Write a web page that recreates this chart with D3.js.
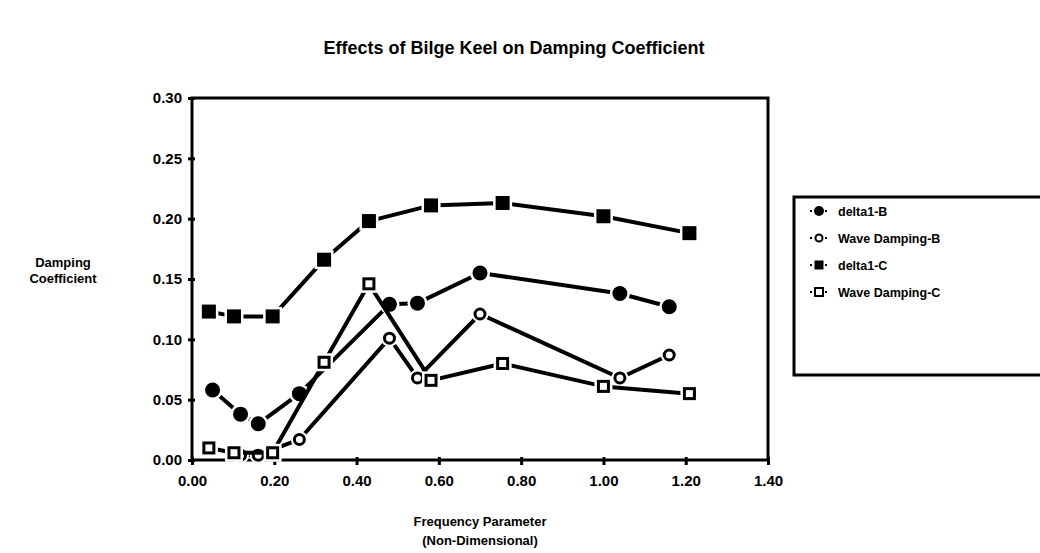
<!DOCTYPE html>
<html>
<head>
<meta charset="utf-8">
<script src="https://d3js.org/d3.v7.min.js"></script>
<style>
  html, body { margin: 0; padding: 0; background: #fff; }
  svg { display: block; }
  text { font-family: "Liberation Sans", Arial, sans-serif; font-weight: bold; fill: #000; }
</style>
</head>
<body>
<svg id="chart" width="1040" height="553"></svg>
<script>
// Frequency parameter (non-dimensional) for each series
const freqB = [0.05, 0.118, 0.161, 0.261, 0.48, 0.548, 0.70, 1.04, 1.16];
const freqWaveB = [0.118, 0.161, 0.261, 0.48, 0.548, 0.70, 1.04, 1.16];
const freqC = [0.041, 0.102, 0.196, 0.321, 0.43, 0.581, 0.755, 1.00, 1.209];

// Damping coefficients
const delta1B = [0.058, 0.038, 0.030, 0.055, 0.129, 0.130, 0.155, 0.138, 0.127];
const waveDampingB = [0.004, 0.004, 0.017, 0.101, 0.068, 0.121, 0.068, 0.087];
const delta1C = [0.123, 0.119, 0.119, 0.166, 0.198, 0.211, 0.213, 0.202, 0.188];
const waveDampingC = [0.010, 0.006, 0.006, 0.081, 0.146, 0.066, 0.080, 0.061, 0.055];

const xTicks = [0, 0.2, 0.4, 0.6, 0.8, 1.0, 1.2, 1.4];
const yTicks = [0, 0.05, 0.10, 0.15, 0.20, 0.25, 0.30];

const seriesNames = ["delta1-B", "Wave Damping-B", "delta1-C", "Wave Damping-C"];
const markerKinds = ["filledCircle", "openCircle", "filledSquare", "openSquare"];

const series = [
  { name: seriesNames[0], kind: markerKinds[0], x: freqB, y: delta1B },
  { name: seriesNames[1], kind: markerKinds[1], x: freqWaveB, y: waveDampingB },
  { name: seriesNames[2], kind: markerKinds[2], x: freqC, y: delta1C },
  { name: seriesNames[3], kind: markerKinds[3], x: freqC, y: waveDampingC }
];

const svg = d3.select("#chart");

const plot = { left: 192, right: 768, top: 98, bottom: 460 };
const x = d3.scaleLinear().domain([0, 1.4]).range([plot.left, plot.right]);
const y = d3.scaleLinear().domain([0, 0.3]).range([plot.bottom, plot.top]);

// Title
svg.append("text")
  .attr("x", 514).attr("y", 54)
  .attr("text-anchor", "middle")
  .style("font-size", "18px")
  .text("Effects of Bilge Keel on Damping Coefficient");

// Frame around plotting area
svg.append("rect")
  .attr("x", plot.left).attr("y", plot.top)
  .attr("width", plot.right - plot.left).attr("height", plot.bottom - plot.top)
  .attr("fill", "none").attr("stroke", "#000").attr("stroke-width", 3);

// Axes
const fmt = d3.format(".2f");
const yAxis = d3.axisLeft(y).tickValues(yTicks).tickFormat(fmt).tickSize(4).tickPadding(6);
const xAxis = d3.axisBottom(x).tickValues(xTicks).tickFormat(fmt).tickSize(5).tickPadding(10);

const gy = svg.append("g").attr("transform", `translate(${plot.left},0)`).call(yAxis);
const gx = svg.append("g").attr("transform", `translate(0,${plot.bottom})`).call(xAxis);
[gx, gy].forEach(g => {
  g.select(".domain").remove();
  g.selectAll(".tick line").attr("stroke", "#000").attr("stroke-width", 3);
  g.selectAll(".tick text")
    .style("font-size", "15px")
    .style("font-family", "'Liberation Sans', Arial, sans-serif")
    .style("font-weight", "bold")
    .attr("fill", "#000");
});
gy.selectAll(".tick line").attr("x1", 3);
gx.selectAll(".tick line").attr("y1", -3);

// Axis titles
const yTitle = svg.append("text").attr("text-anchor", "middle").style("font-size", "13px");
yTitle.append("tspan").attr("x", 63).attr("y", 267).text("Damping");
yTitle.append("tspan").attr("x", 63).attr("y", 283).text("Coefficient");

const xTitle = svg.append("text").attr("text-anchor", "middle").style("font-size", "13px");
xTitle.append("tspan").attr("x", 480).attr("y", 526).text("Frequency Parameter");
xTitle.append("tspan").attr("x", 480).attr("y", 545).text("(Non-Dimensional)");

// Marker drawing: white halo first so lines stop short of each symbol
function drawMarker(g, kind, cx, cy) {
  if (kind === "filledCircle") {
    g.append("circle").attr("cx", cx).attr("cy", cy).attr("r", 10).attr("fill", "#fff");
    g.append("circle").attr("cx", cx).attr("cy", cy).attr("r", 7.5).attr("fill", "#000");
  } else if (kind === "openCircle") {
    g.append("circle").attr("cx", cx).attr("cy", cy).attr("r", 8.5).attr("fill", "#fff");
    g.append("circle").attr("cx", cx).attr("cy", cy).attr("r", 5).attr("fill", "#fff")
      .attr("stroke", "#000").attr("stroke-width", 3);
  } else if (kind === "filledSquare") {
    g.append("rect").attr("x", cx - 9.5).attr("y", cy - 9.5).attr("width", 19).attr("height", 19).attr("fill", "#fff");
    g.append("rect").attr("x", cx - 7).attr("y", cy - 7).attr("width", 14).attr("height", 14).attr("fill", "#000");
  } else {
    g.append("rect").attr("x", cx - 9).attr("y", cy - 9).attr("width", 18).attr("height", 18).attr("fill", "#fff");
    g.append("rect").attr("x", cx - 5).attr("y", cy - 5).attr("width", 10).attr("height", 10).attr("fill", "#fff")
      .attr("stroke", "#000").attr("stroke-width", 3);
  }
}

const line = d3.line().x(d => x(d[0])).y(d => y(d[1]));

series.forEach(s => {
  const pts = s.x.map((v, i) => [v, s.y[i]]);
  const g = svg.append("g").attr("class", "series");
  g.append("path").datum(pts).attr("d", line)
    .attr("fill", "none").attr("stroke", "#000").attr("stroke-width", 4)
    .attr("stroke-linejoin", "round");
  pts.forEach(p => drawMarker(g, s.kind, x(p[0]), y(p[1])));
});

// Legend
const legend = svg.append("g");
legend.append("rect")
  .attr("x", 794).attr("y", 197).attr("width", 260).attr("height", 178)
  .attr("fill", "#fff").attr("stroke", "#000").attr("stroke-width", 3);

series.forEach((s, i) => {
  const ly = 211 + i * 27;
  const lg = legend.append("g");
  lg.append("line").attr("x1", 810).attr("x2", 828).attr("y1", ly).attr("y2", ly)
    .attr("stroke", "#000").attr("stroke-width", 2).attr("stroke-dasharray", "2,3");
  if (s.kind === "filledCircle") {
    lg.append("circle").attr("cx", 819).attr("cy", ly).attr("r", 5).attr("fill", "#000");
  } else if (s.kind === "openCircle") {
    lg.append("circle").attr("cx", 819).attr("cy", ly).attr("r", 3.5).attr("fill", "#fff").attr("stroke", "#000").attr("stroke-width", 2);
  } else if (s.kind === "filledSquare") {
    lg.append("rect").attr("x", 814.5).attr("y", ly - 4.5).attr("width", 9).attr("height", 9).attr("fill", "#000");
  } else {
    lg.append("rect").attr("x", 815).attr("y", ly - 4).attr("width", 8).attr("height", 8).attr("fill", "#fff").attr("stroke", "#000").attr("stroke-width", 2);
  }
  lg.append("text").attr("x", 838).attr("y", ly + 5).style("font-size", "12.5px").text(s.name);
});
</script>
</body>
</html>
